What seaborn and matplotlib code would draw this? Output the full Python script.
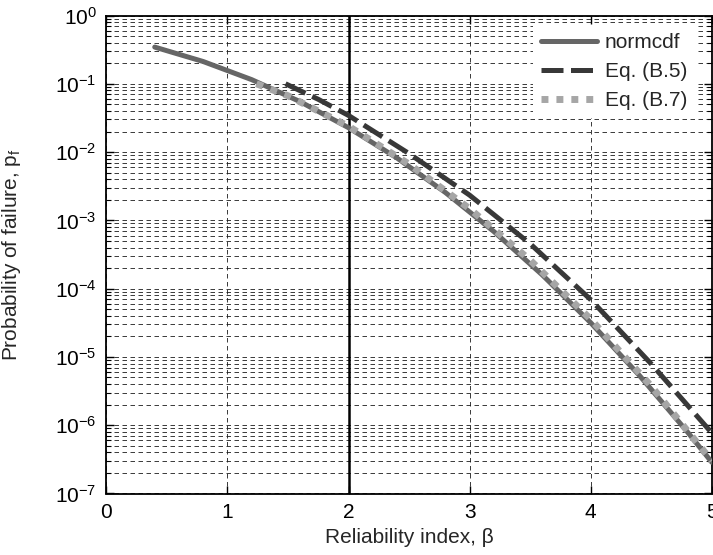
import numpy as np
import pandas as pd
import seaborn as sns
import matplotlib
matplotlib.use("Agg")
import matplotlib.pyplot as plt
from matplotlib.ticker import LogLocator, NullFormatter, FixedLocator

# Reliability index and failure probability for the exact normal CDF
beta_normcdf = [0.4, 0.8, 1.2, 1.6, 2.0, 2.4, 2.8, 3.2, 3.6, 4.0, 4.4, 4.8, 5.0]
pf_normcdf = [0.3446, 0.2119, 0.1151, 0.0548, 0.02275, 0.0082, 0.00256,
              6.87e-4, 1.59e-4, 3.17e-5, 5.41e-6, 7.93e-7, 2.87e-7]

# Approximation of Eq. (B.5)
beta_b5 = [1.48, 1.75, 2.0, 2.5, 3.0, 3.5, 4.0, 4.5, 5.0]
pf_b5 = [0.1, 0.0593, 0.0344, 0.0095, 2.34e-3, 4.54e-4, 6.9e-5, 7.9e-6, 7.7e-7]

# Approximation of Eq. (B.7)
beta_b7 = [1.24, 1.5, 2.0, 2.5, 3.0, 3.5, 4.0, 4.5, 5.0]
pf_b7 = [0.1, 0.0668, 0.0239, 0.00666, 1.48e-3, 2.61e-4, 3.56e-5, 3.73e-6, 3.0e-7]

series_labels = ["normcdf", "Eq. (B.5)", "Eq. (B.7)"]
beta_target = 2.0
x_ticks = [0, 1, 2, 3, 4, 5]

sns.set_style("ticks")
plt.rcParams["font.family"] = ["Liberation Sans", "DejaVu Sans"]
plt.rcParams["mathtext.fontset"] = "custom"
plt.rcParams["mathtext.rm"] = "Liberation Sans"
plt.rcParams["mathtext.it"] = "Liberation Sans:italic"
plt.rcParams["mathtext.bf"] = "Liberation Sans:bold"
plt.rcParams["axes.unicode_minus"] = True

W, H = 713, 555
fig = plt.figure(figsize=(W / 100, H / 100), dpi=100)
ax = fig.add_axes([106.3 / W, 1 - 493.5 / H, 605.5 / W, 478 / H])

df_n = pd.DataFrame({"beta": beta_normcdf, "pf": pf_normcdf})
df_5 = pd.DataFrame({"beta": beta_b5, "pf": pf_b5})
df_7 = pd.DataFrame({"beta": beta_b7, "pf": pf_b7})

sns.lineplot(data=df_n, x="beta", y="pf", ax=ax, color="#666666", lw=3.6,
             label=series_labels[0], zorder=3)
sns.lineplot(data=df_5, x="beta", y="pf", ax=ax, color="#383838", lw=3.6,
             linestyle=(0, (4.4, 1.5)), label=series_labels[1], zorder=3)
sns.lineplot(data=df_7, x="beta", y="pf", ax=ax, color="#a6a6a6", lw=5.0,
             linestyle=(0, (1.0, 1.15)), label=series_labels[2], zorder=4)

ax.axvline(beta_target, color="black", lw=1.8, zorder=2.5)

ax.set_yscale("log")
ax.set_xlim(0, 5)
ax.set_ylim(1e-7, 1)
ax.xaxis.set_major_locator(FixedLocator(x_ticks))
ax.yaxis.set_major_locator(LogLocator(base=10, numticks=20))
ax.yaxis.set_minor_locator(LogLocator(base=10, subs=np.arange(2, 10), numticks=20))
ax.yaxis.set_minor_formatter(NullFormatter())

grid_style = dict(color="#1a1a1a", lw=0.6, linestyle=(0, (5.4, 4.2)))
ax.grid(True, which="major", axis="both", **grid_style)
ax.grid(True, which="minor", axis="y", **grid_style)
ax.set_axisbelow(True)

ax.tick_params(which="both", direction="in", top=True, right=True,
               colors="black", labelsize=15)
ax.tick_params(which="major", length=6, width=1.0, pad=7)
ax.tick_params(which="minor", length=3.5, width=0.8)
for s in ax.spines.values():
    s.set_linewidth(1.3)
    s.set_color("black")

ax.set_xlabel("Reliability index, β", fontsize=15)
ax.set_ylabel("Probability of failure, p$_\\mathregular{f}$", fontsize=15)
ax.xaxis.set_label_coords(0.5, -0.072)
ax.yaxis.set_label_coords(-0.137, 0.5)

leg = ax.legend(loc="upper right", bbox_to_anchor=(0.9727, 0.9805),
                fontsize=15, handlelength=2.7, handletextpad=0.34,
                labelspacing=0.48, borderpad=0.4, borderaxespad=0.0,
                frameon=True, fancybox=False, facecolor="white",
                edgecolor="none", framealpha=1.0)
leg.set_zorder(5)

fig.savefig("out.png", dpi=100)
